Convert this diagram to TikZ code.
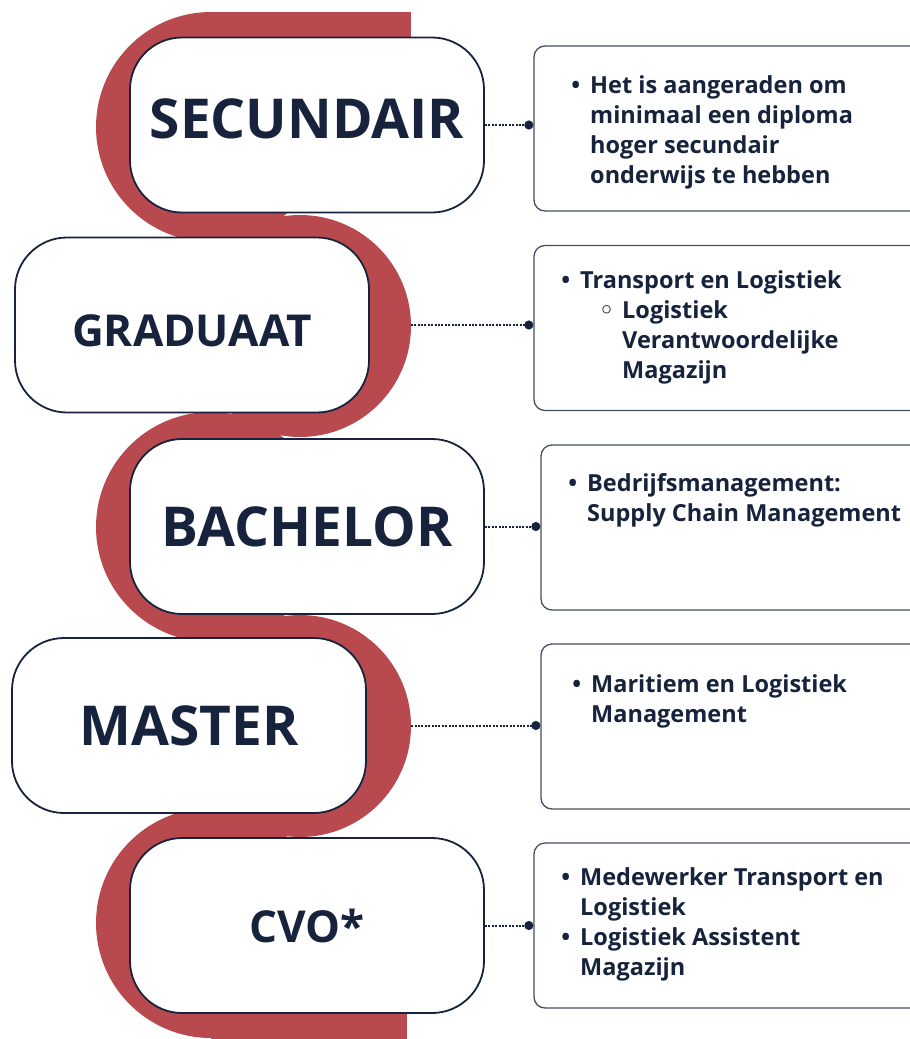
\documentclass[tikz,border=0pt]{standalone}
\usepackage{fontspec}
\setmainfont{Open Sans}
\newfontfamily\symfont{DejaVu Sans}
\usepackage{tikz}
\usetikzlibrary{positioning, calc, arrows.meta, backgrounds}
\definecolor{navy}{HTML}{17233C}
\definecolor{ribbon}{HTML}{B84A4F}
\tikzstyle{Dotline} = [
    navy,
    line width=2pt,
    dash pattern=on 2pt off 1.4pt,
    -{Circle[length=9pt 0, width=9pt 0]}
]
\newcommand{\bul}{\llap{\textbullet\hspace{10pt}}}
\newcommand{\subbul}{\hspace{42pt}\llap{{\symfont ◦}\hspace{8pt}}}

\begin{document}
\begin{tikzpicture}[
x=1pt, y=-1pt,
stage/.style={
    draw=navy,
    line width=1.8pt,
    fill=white,
    rounded corners=52pt,
    minimum width=354pt,
    minimum height=175pt,
    text=navy,
    font=\bfseries\fontsize{55}{60}\selectfont
    },
small/.style={
    font=\bfseries\fontsize{44}{50}\selectfont
    },
infobox/.style={
    draw=navy!80,
    line width=1.3pt,
    fill=white,
    rounded corners=11pt,
    minimum width=396pt,
    minimum height=165pt
    },
infotext/.style={
    anchor=base west,
    inner sep=0pt,
    text=navy,
    font=\bfseries\fontsize{23.5}{30}\selectfont
    }
]
\useasboundingbox (0,0) rectangle (910,1039);
\clip (0,0) rectangle (910,1039);

% boxes on the left
\node[stage, text depth=12pt] (secundair) at (307,125) {SECUNDAIR};
\node[stage, small, text height=43pt] (graduaat) at (192,325) {GRADUAAT};
\node[stage] (bachelor) at (307,526.5) {BACHELOR};
\node[stage] (master) at (189,725.5) {MASTER};
\node[stage, small] (cvo) at (307,925.5) {CVO*};

% boxes on the right
\node[infobox] (info1) at (732,128.5) {};
\node[infobox] (info2) at (732,328) {};
\node[infobox] (info3) at (739,527.5) {};
\node[infobox] (info4) at (739,726.5) {};
\node[infobox] (info5) at (732,925.5) {};

\begin{scope}[on background layer]
% connectors
\draw[Dotline] (secundair.east) -- (secundair.east -| info1.west);
\draw[Dotline] (graduaat.east) -- (graduaat.east -| info2.west);
\draw[Dotline] (bachelor.east) -- (bachelor.east -| info3.west);
\draw[Dotline] (master.east) -- (master.east -| info4.west);
\draw[Dotline] (cvo.east) -- (cvo.east -| info5.west);

% ribbon
\fill[ribbon] (211,12) rectangle (411,70);
\foreach \y in {127, 527, 923}
    \fill[ribbon] (211,\y) circle (115);
\foreach \y in {326, 726}
    \fill[ribbon] (300,\y) circle (111);
\fill[ribbon] (211,980) rectangle (407,1045);
\end{scope}

\node[infotext] (text1) at (590,93) {\begin{tabular}[t]{@{}l@{}}
    \bul Het is aangeraden om\\
    minimaal een diploma\\
    hoger secundair\\
    onderwijs te hebben
\end{tabular}};
\node[infotext] (text2) at (580,288) {\begin{tabular}[t]{@{}l@{}}
    \bul Transport en Logistiek\\
    \subbul Logistiek\\
    \hspace{42pt}Verantwoordelijke\\
    \hspace{42pt}Magazijn
\end{tabular}};
\node[infotext] (text3) at (587,491) {\begin{tabular}[t]{@{}l@{}}
    \bul Bedrijfsmanagement:\\
    Supply Chain Management
\end{tabular}};
\node[infotext] (text4) at (591,692) {\begin{tabular}[t]{@{}l@{}}
    \bul Maritiem en Logistiek\\
    Management
\end{tabular}};
\node[infotext] (text5) at (580,885) {\begin{tabular}[t]{@{}l@{}}
    \bul Medewerker Transport en\\
    Logistiek\\
    \bul Logistiek Assistent\\
    Magazijn
\end{tabular}};

\end{tikzpicture}
\end{document}
